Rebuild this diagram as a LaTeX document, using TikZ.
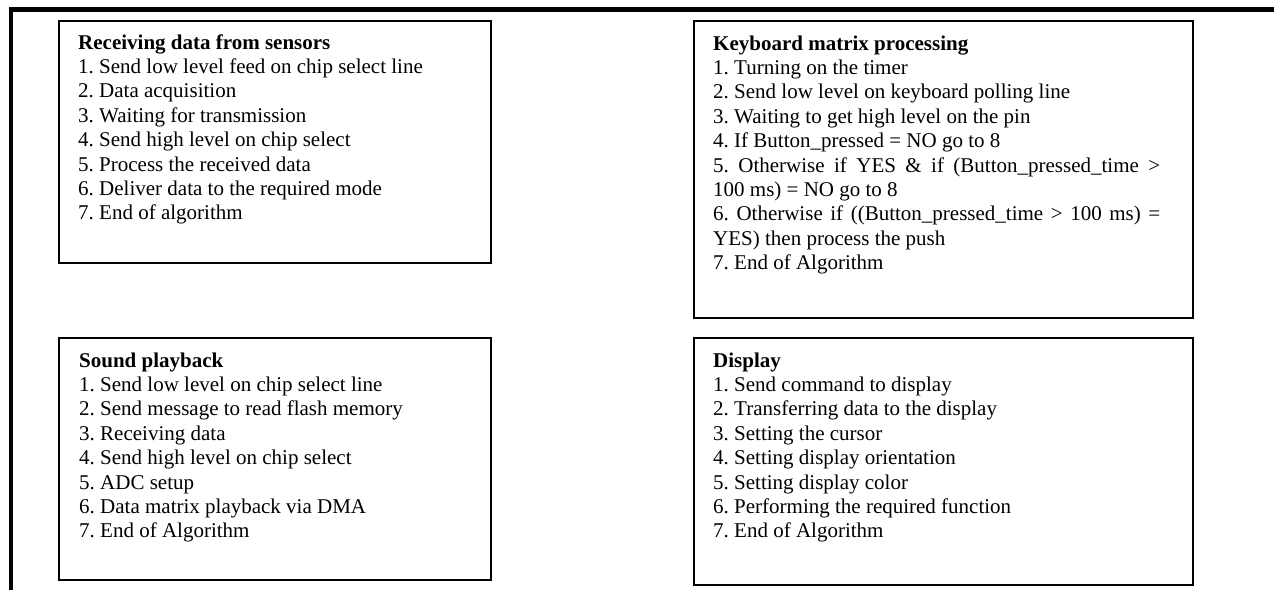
\documentclass[tikz,border=0pt]{standalone}
\usepackage{fontspec}
\setmainfont{Liberation Serif}
\frenchspacing
\newlength{\du}
\setlength{\du}{1pt}
\tikzset{
  blockframe/.style={draw=black, line width=2\du, anchor=north west, inner sep=0pt},
  blocktext/.style={anchor=base west, inner sep=0pt, text width=#1, align=justify,
    font=\fontsize{21}{24.4}\selectfont},
}
\begin{document}
\begin{tikzpicture}
\pgftransformxscale{1.000000}
\pgftransformyscale{-1.000000}
\useasboundingbox (0\du,0\du) rectangle (1274\du,590\du);
% outer rule
\draw[line width=4.5\du] (11\du,590\du) -- (11\du,9.5\du) -- (1274\du,9.5\du);
% sensors
\node (sensors) [blockframe, minimum width=432\du, minimum height=242\du] at (58\du,20\du) {};
\node (sensorstext) [blocktext=392\du] at (78\du,49\du) {\textbf{Receiving data from sensors}\par
1. Send low level feed on chip select line\par
2. Data acquisition\par
3. Waiting for transmission\par
4. Send high level on chip select\par
5. Process the received data\par
6. Deliver data to the required mode\par
7. End of algorithm};
% keyboard
\node (keyboard) [blockframe, minimum width=499\du, minimum height=297\du] at (693\du,20\du) {};
\node (keyboardtext) [blocktext=447\du] at (713\du,50\du) {\textbf{Keyboard matrix processing}\par
1. Turning on the timer\par
2. Send low level on keyboard polling line\par
3. Waiting to get high level on the pin\par
4. If Button\_pressed = NO go to 8\par
5. Otherwise if YES \& if (Button\_pressed\_time >\linebreak 100 ms) = NO go to 8\par
6. Otherwise if ((Button\_pressed\_time > 100 ms) =\linebreak YES) then process the push\par
7. End of Algorithm};
% sound
\node (sound) [blockframe, minimum width=432\du, minimum height=242\du] at (58\du,337\du) {};
\node (soundtext) [blocktext=392\du] at (79\du,367\du) {\textbf{Sound playback}\par
1. Send low level on chip select line\par
2. Send message to read flash memory\par
3. Receiving data\par
4. Send high level on chip select\par
5. ADC setup\par
6. Data matrix playback via DMA\par
7. End of Algorithm};
% display
\node (display) [blockframe, minimum width=499\du, minimum height=247\du] at (693\du,337\du) {};
\node (displaytext) [blocktext=447\du] at (713\du,367\du) {\textbf{Display}\par
1. Send command to display\par
2. Transferring data to the display\par
3. Setting the cursor\par
4. Setting display orientation\par
5. Setting display color\par
6. Performing the required function\par
7. End of Algorithm};
\end{tikzpicture}
\end{document}
